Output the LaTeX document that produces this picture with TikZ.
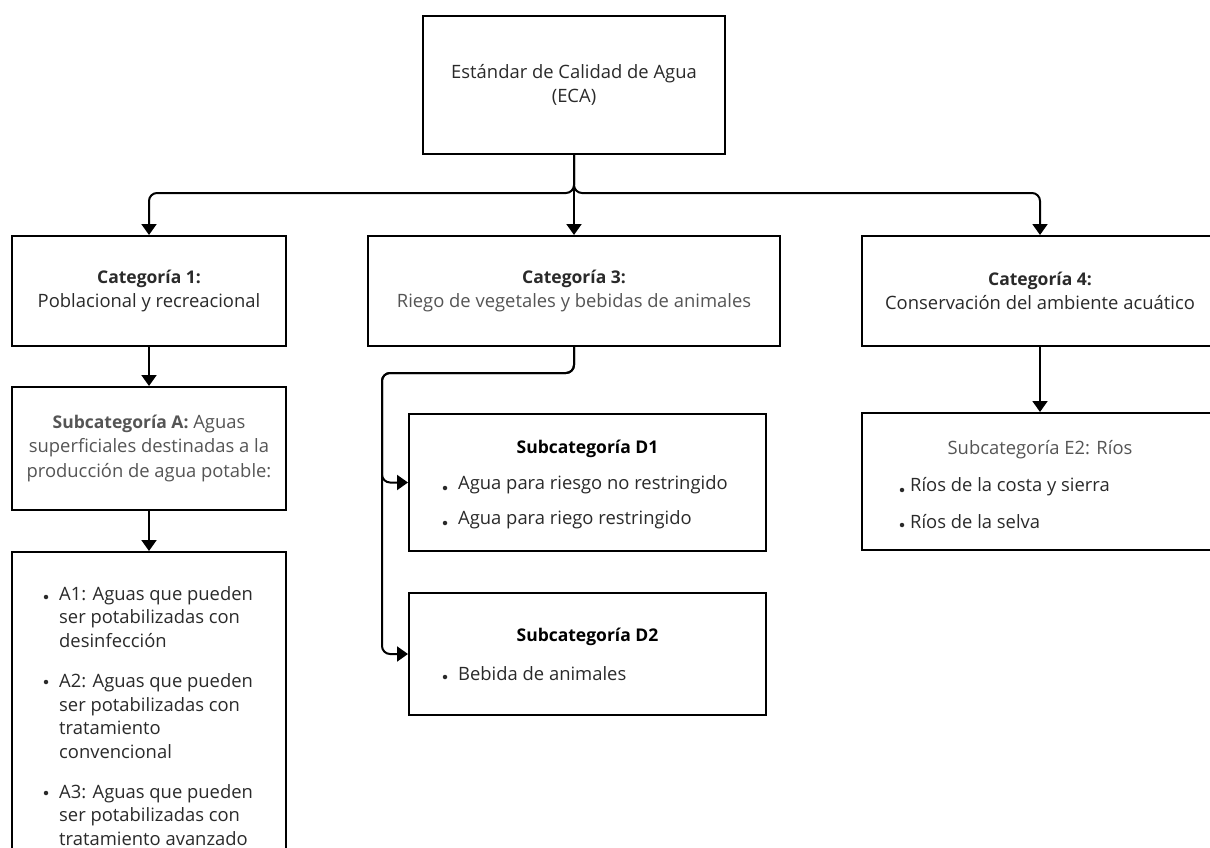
\documentclass[tikz,border=0pt]{standalone}
\usepackage{fontspec}
\setmainfont{Open Sans}
\usetikzlibrary{arrows.meta}
\definecolor{tdark}{HTML}{2A2A2A}
\definecolor{tgray}{HTML}{555555}
\newcommand\ttlfont{\fontsize{17.5}{24.5}\selectfont\bfseries}
\begin{document}
\begin{tikzpicture}[x=1pt,y=-1pt,
  box/.style={draw=black, line width=2pt, inner sep=0pt, align=center,
    font=\fontsize{18.4}{24.5}\selectfont, text=tdark},
  conn/.style={line width=2pt, -{Triangle[width=15pt,length=11pt]}, rounded corners=8pt},
  lst/.style={font=\fontsize{18.4}{23.5}\selectfont, inner sep=0pt, align=left, anchor=west, text=tdark},
  ttl/.style={font=\ttlfont, inner sep=0pt, text=black},
  bul/.style={circle, fill=tdark, inner sep=0pt, minimum size=4.5pt}]
\fill[white] (0,0) rectangle (1210,848);
\useasboundingbox (0,0) rectangle (1210,848);

% boxes
\node[box, minimum width=302pt, minimum height=138pt] (eca) at (574,85)
  {Estándar de Calidad de Agua\\(ECA)};
\node[box, minimum width=274pt, minimum height=110pt] (cat1) at (149,291)
  {{\ttlfont Categoría 1:}\\Poblacional y recreacional};
\node[box, minimum width=412pt, minimum height=110pt] (cat3) at (574,291)
  {{\ttlfont Categoría 3:}\\\textcolor{tgray}{Riego de vegetales y bebidas de animales}};
\node[box, minimum width=356pt, minimum height=110pt] (cat4) at (1040,291)
  {{\ttlfont Categoría 4:}\\Conservación del ambiente acuático};
\node[box, minimum width=274pt, minimum height=123pt, text=tgray] (suba) at (149,448.5)
  {{\ttlfont Subcategoría A:} Aguas\\superficiales destinadas a la\\producción de agua potable:};
\node[box, minimum width=274pt, minimum height=320pt] (alist) at (149,712) {};
\node[box, minimum width=357pt, minimum height=137pt] (d1) at (587.5,482.5) {};
\node[box, minimum width=357pt, minimum height=122pt] (d2) at (587.5,654) {};
\node[box, minimum width=356pt, minimum height=137pt] (e2) at (1040,481.5) {};

% texts of the list boxes
\node[ttl] (d1t) at (587.5,449) {Subcategoría D1};
\node[bul] (d1b1) at (445,488) {};
\node[lst] (d1i1) at (458,485) {Agua para riesgo no restringido};
\node[bul] (d1b2) at (445,523) {};
\node[lst] (d1i2) at (458,520) {Agua para riego restringido};

\node[ttl] (d2t) at (587.5,637) {Subcategoría D2};
\node[bul] (d2b1) at (445,677) {};
\node[lst] (d2i1) at (458,674) {Bebida de animales};

\node[inner sep=0pt, font=\fontsize{18.4}{24}\selectfont, text=tgray] (e2t) at (1040,450) {Subcategoría E2: Ríos};
\node[bul] (e2b1) at (902,490) {};
\node[lst] (e2i1) at (910,487) {Ríos de la costa y sierra};
\node[bul] (e2b2) at (902,525) {};
\node[lst] (e2i2) at (910,522) {Ríos de la selva};

\node[bul] (ab1) at (46,597) {};
\node[lst] (ai1) at (59,617) {A1: Aguas que pueden\\ser potabilizadas con\\desinfección};
\node[bul] (ab2) at (46,682) {};
\node[lst] (ai2) at (59,716) {A2: Aguas que pueden\\ser potabilizadas con\\tratamiento\\convencional};
\node[bul] (ab3) at (46,793) {};
\node[lst] (ai3) at (59,815) {A3: Aguas que pueden\\ser potabilizadas con\\tratamiento avanzado};

% connectors
\coordinate (bus) at (574,193);
\coordinate (c3b) at (382,373);
\draw[conn] (eca.south) -- (cat3.north);
\draw[conn] (eca.south) -- (bus) -| (cat1.north);
\draw[conn] (eca.south) -- (bus) -| (cat4.north);
\draw[conn] (cat1.south) -- (suba.north);
\draw[conn] (suba.south) -- (alist.north);
\draw[conn] (cat4.south) -- (e2.north);
\draw[conn] (cat3.south) |- (c3b) |- (d1.west);
\draw[conn] (cat3.south) |- (c3b) |- (d2.west);
\end{tikzpicture}
\end{document}
